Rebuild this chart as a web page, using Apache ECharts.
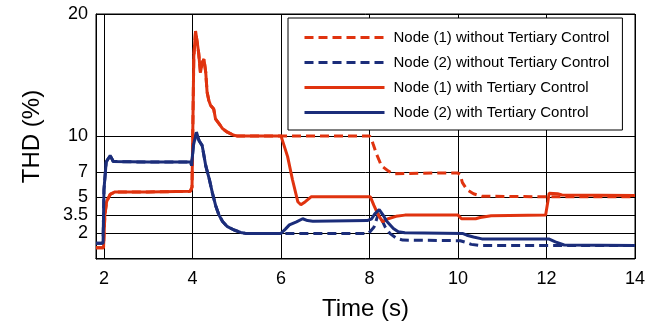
<!DOCTYPE html>
<html>
<head>
<meta charset="utf-8">
<script src="https://cdn.jsdelivr.net/npm/echarts@6/dist/echarts.min.js"></script>
<style>
  html, body { margin: 0; padding: 0; background: #fff; }
  #chart { width: 663px; height: 327px; }
</style>
</head>
<body>
<div id="chart"></div>
<script>
// tick values
const xTicks = [2, 4, 6, 8, 10, 12, 14];
const yTicks = [2, 3.5, 5, 7, 10, 20];

// node 1 (both cases are the same until t = 6)
const node1Early = [
  [1.82, 0.83], [1.99, 0.83], [2.02, 3.5], [2.06, 4.6], [2.14, 5.2], [2.25, 5.4],
  [3.0, 5.4], [3.95, 5.45], [3.99, 5.8], [4.03, 16.5], [4.07, 18.6], [4.11, 17.6],
  [4.14, 16.8], [4.18, 15.2], [4.22, 16.0], [4.26, 16.3], [4.3, 15.2], [4.33, 13.6],
  [4.37, 12.9], [4.41, 12.5], [4.48, 12.2], [4.52, 11.4], [4.6, 11.0], [4.68, 10.6],
  [4.79, 10.3], [4.94, 10.05], [5.0, 10.0], [6.0, 10.0]
];
const node1Without = [
  [7.0, 10.0], [8.0, 10.0], [8.04, 9.8], [8.08, 9.35], [8.16, 8.5], [8.27, 7.55],
  [8.42, 7.13], [8.54, 6.9], [9.5, 6.95], [10.0, 6.95], [10.05, 6.8], [10.1, 6.17],
  [10.2, 5.6], [10.35, 5.25], [10.54, 5.05], [12.0, 5.0], [14.0, 5.0]
];
const node1With = [
  [6.04, 10.0], [6.15, 8.3], [6.26, 6.4], [6.38, 4.6], [6.45, 4.35], [6.55, 4.6],
  [6.68, 5.0], [8.02, 5.0], [8.1, 4.3], [8.2, 3.5], [8.3, 2.95], [8.42, 3.2],
  [8.6, 3.4], [8.8, 3.5], [10.0, 3.5], [10.08, 3.2], [10.4, 3.2], [10.5, 3.3],
  [10.75, 3.45], [11.98, 3.5], [12.03, 4.6], [12.06, 5.3], [12.25, 5.25],
  [12.35, 5.15], [14.0, 5.1]
];

// node 2
const node2Early = [
  [1.82, 1.2], [1.98, 1.2], [2.0, 5.6], [2.05, 7.85], [2.14, 8.4], [2.21, 7.9],
  [3.0, 7.85], [3.96, 7.85], [3.98, 7.55], [4.02, 9.2], [4.09, 10.3], [4.15, 9.6],
  [4.22, 9.2], [4.3, 7.55], [4.38, 6.45], [4.45, 5.33], [4.53, 4.2], [4.6, 3.5],
  [4.68, 2.97], [4.79, 2.55], [4.94, 2.28], [5.09, 2.08], [5.2, 2.0], [6.0, 2.0]
];
const node2Without = [
  [7.98, 2.0], [8.05, 2.3], [8.1, 2.5], [8.2, 3.6], [8.28, 3.1], [8.35, 2.55],
  [8.46, 2.0], [8.61, 1.6], [8.75, 1.45], [10.05, 1.4], [10.15, 1.3], [10.3, 1.1],
  [10.5, 1.0], [14.0, 1.0]
];
const node2With = [
  [6.1, 2.35], [6.19, 2.7], [6.35, 2.95], [6.49, 3.2], [6.6, 3.05], [6.72, 3.0],
  [7.95, 3.05], [8.05, 3.2], [8.12, 3.6], [8.22, 3.95], [8.3, 3.55], [8.39, 3.0],
  [8.54, 2.4], [8.65, 2.13], [8.8, 2.05], [10.1, 2.0], [10.2, 1.85], [10.35, 1.7],
  [10.54, 1.55], [12.05, 1.55], [12.2, 1.3], [12.4, 1.05], [14.0, 1.0]
];

const seriesNames = [
  'Node (1) without Tertiary Control',
  'Node (2) without Tertiary Control',
  'Node (1) with Tertiary Control',
  'Node (2) with Tertiary Control'
];

const RED = '#e0330f';
const BLUE = '#1b2d7a';
const FONT = '"Liberation Sans", Arial, sans-serif';

const makeLine = (name, data, color, dashed) => ({
  name,
  type: 'line',
  data,
  symbol: 'none',
  animation: false,
  lineStyle: {
    color,
    width: 3,
    type: dashed ? [9, 5] : 'solid',
  },
  itemStyle: { color },
});

const chart = echarts.init(document.getElementById('chart'));

chart.setOption({
  backgroundColor: '#fff',
  textStyle: { fontFamily: FONT, color: '#000' },
  grid: {
    left: 96,
    right: 28,
    top: 14,
    bottom: 68,
    show: true,
    borderColor: '#000',
    borderWidth: 1,
    containLabel: false,
  },
  legend: {
    orient: 'vertical',
    left: 288,
    top: 18,
    padding: [12, 13, 10, 15],
    itemWidth: 80,
    itemHeight: 14,
    itemGap: 10,
    backgroundColor: '#fff',
    borderColor: '#000',
    borderWidth: 1,
    // hide the circle ECharts puts on line-series legend icons
    itemStyle: { opacity: 0 },
    lineStyle: { width: 3 },
    textStyle: {
      fontFamily: FONT,
      fontSize: 15,
      color: '#000',
      padding: [0, 0, 0, 4],
    },
    data: seriesNames,
  },
  xAxis: {
    type: 'value',
    min: 1.82,
    max: 14,
    name: 'Time (s)',
    nameLocation: 'middle',
    nameGap: 38,
    nameTextStyle: { fontSize: 24, color: '#000', fontFamily: FONT },
    axisLine: { show: true, lineStyle: { color: '#000', width: 1 } },
    axisTick: { show: false, customValues: xTicks },
    axisLabel: {
      customValues: xTicks,
      fontSize: 18,
      color: '#000',
      margin: 11,
      fontFamily: FONT,
    },
    splitLine: { show: true, lineStyle: { color: '#000', width: 1 } },
  },
  yAxis: {
    type: 'value',
    min: -0.1,
    max: 20,
    name: 'THD (%)',
    nameLocation: 'middle',
    nameGap: 52,
    nameTextStyle: { fontSize: 24, color: '#000', fontFamily: FONT },
    axisLine: { show: true, lineStyle: { color: '#000', width: 1 } },
    axisTick: { show: false, customValues: yTicks },
    axisLabel: {
      customValues: yTicks,
      fontSize: 18,
      color: '#000',
      margin: 8,
      fontFamily: FONT,
    },
    splitLine: { show: true, lineStyle: { color: '#000', width: 1 } },
  },
  series: [
    makeLine(seriesNames[0], node1Early.concat(node1Without), RED, true),
    makeLine(seriesNames[1], node2Early.concat(node2Without), BLUE, true),
    makeLine(seriesNames[2], node1Early.concat(node1With), RED, false),
    makeLine(seriesNames[3], node2Early.concat(node2With), BLUE, false),
  ],
});
</script>
</body>
</html>
